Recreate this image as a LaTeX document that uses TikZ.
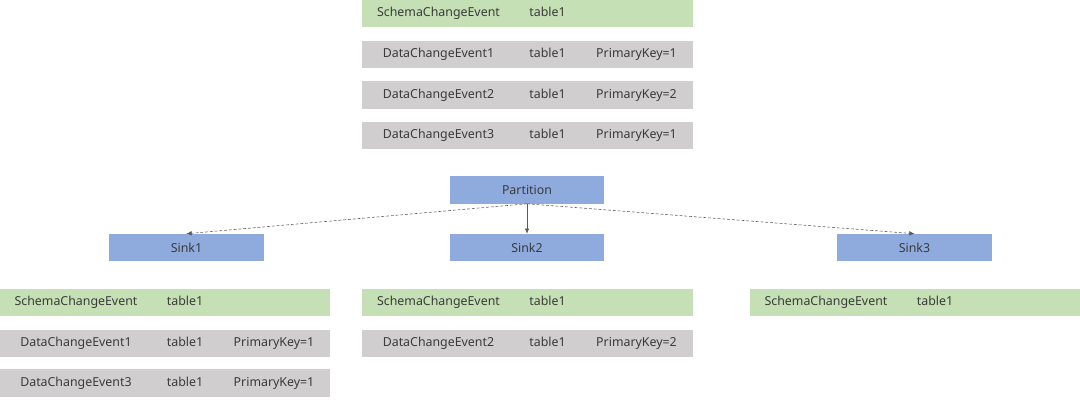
\documentclass[tikz,border=0pt]{standalone}
\usepackage{fontspec}
\setmainfont{Noto Sans}
\usepackage{tikz}
\usetikzlibrary{arrows.meta,positioning}
\definecolor{schemagreen}{HTML}{C5E0B4}
\definecolor{datagray}{HTML}{D0CECE}
\definecolor{partblue}{HTML}{8FAADC}
\definecolor{textgray}{HTML}{3B3B3B}
\definecolor{linegray}{HTML}{595959}
% one event row: name, table, key
\newcommand{\evtrow}[3]{\makebox[3.8cm]{#1}\makebox[1.65cm]{#2}\makebox[2.8cm]{#3}}
\tikzset{
  row/.style={inner sep=0pt,minimum width=8.25cm,minimum height=6.75mm,
    font=\fontsize{8.8}{10}\selectfont,text=textgray,anchor=center},
  schemarow/.style={row,fill=schemagreen},
  datarow/.style={row,fill=datagray},
  opbox/.style={fill=partblue,minimum width=3.85cm,minimum height=6.75mm,inner sep=0pt,
    font=\fontsize{8.8}{10}\selectfont,text=textgray},
  flow/.style={-{Latex[length=1.3mm,width=1.1mm]},draw=linegray,line width=0.4pt},
  dflow/.style={flow,dash pattern=on 2pt off 1.4pt},
}
\begin{document}
\begin{tikzpicture}[x=0.025cm,y=-0.025cm]
  \useasboundingbox (0,0) rectangle (1080,400);
  % incoming events
  \node[schemarow] (inschema) at (527.5,13.5) {\evtrow{SchemaChangeEvent}{table1}{}};
  \node[datarow] (indata1) at (527.5,54.5) {\evtrow{DataChangeEvent1}{table1}{PrimaryKey=1}};
  \node[datarow] (indata2) at (527.5,95) {\evtrow{DataChangeEvent2}{table1}{PrimaryKey=2}};
  \node[datarow] (indata3) at (527.5,135.5) {\evtrow{DataChangeEvent3}{table1}{PrimaryKey=1}};
  % partition and sinks
  \node[opbox] (partition) at (527,190) {Partition};
  \node[opbox] (sink1) at (186.5,247.5) {Sink1};
  \node[opbox] (sink2) at (527,247.5) {Sink2};
  \node[opbox] (sink3) at (914.5,247.5) {Sink3};
  \draw[dflow] (partition.south) -- (sink1.north);
  \draw[flow] (partition.south) -- (sink2.north);
  \draw[dflow] (partition.south) -- (sink3.north);
  % events seen by each sink
  \node[schemarow] (s1schema) at (165,302.5) {\evtrow{SchemaChangeEvent}{table1}{}};
  \node[datarow] (s1data1) at (165,343.5) {\evtrow{DataChangeEvent1}{table1}{PrimaryKey=1}};
  \node[datarow] (s1data3) at (165,383) {\evtrow{DataChangeEvent3}{table1}{PrimaryKey=1}};
  \node[schemarow] (s2schema) at (527.5,302.5) {\evtrow{SchemaChangeEvent}{table1}{}};
  \node[datarow] (s2data2) at (527.5,343.5) {\evtrow{DataChangeEvent2}{table1}{PrimaryKey=2}};
  \node[schemarow] (s3schema) at (915,302.5) {\evtrow{SchemaChangeEvent}{table1}{}};
\end{tikzpicture}
\end{document}
